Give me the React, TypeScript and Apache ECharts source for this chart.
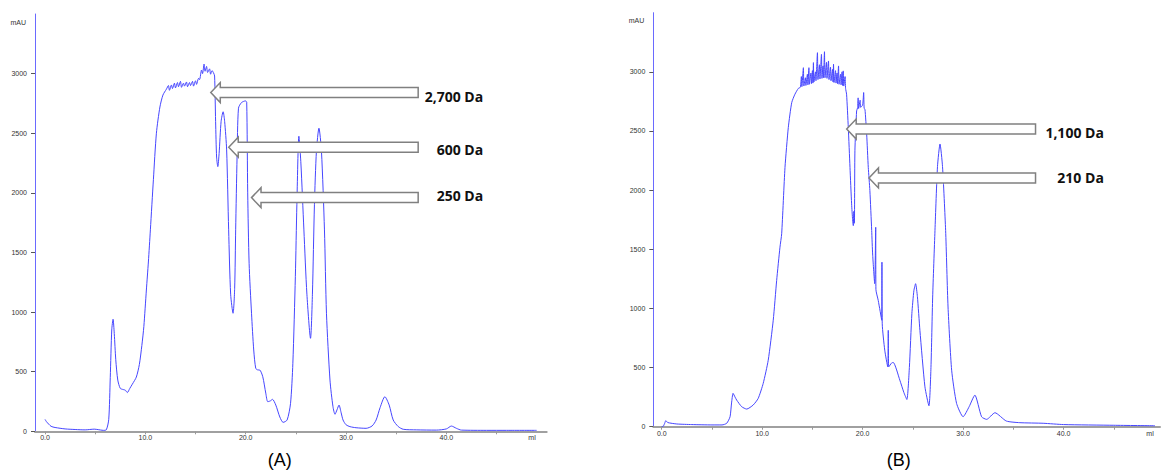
import React, { useEffect, useRef } from "react";
import * as echarts from "echarts";

// ---- Chromatogram (A) : elution volume (ml) / absorbance (mAU)
const volumeA = [
  0.0, 0.15, 0.6, 1.0, 2.0, 3.0, 4.0, 4.9, 5.3, 5.8, 6.1, 6.35, 6.5, 6.65, 6.78, 6.9, 7.05, 7.25, 7.5, 7.8,
  8.0, 8.2, 8.45, 8.7, 9.1, 9.4, 9.65, 9.85, 10.1, 10.3, 10.5, 10.8, 11.1, 11.45, 11.75, 12.1, 12.3, 12.4, 12.6, 12.7,
  12.9, 13.0, 13.2, 13.3, 13.5, 13.6, 13.8, 13.9, 14.1, 14.2, 14.4, 14.5, 14.7, 14.8, 15.0, 15.1, 15.3, 15.4, 15.6, 15.7,
  15.85, 15.95, 16.1, 16.2, 16.4, 16.5, 16.65, 16.8, 16.9, 17.0, 17.1, 17.22, 17.35, 17.55, 17.75, 17.9, 18.1, 18.3, 18.5, 18.74,
  18.9, 19.0, 19.14, 19.28, 19.58, 19.98, 20.1, 20.2, 20.34, 20.58, 20.8, 21.0, 21.2, 21.4, 21.7, 22.0, 22.2, 22.45, 22.67, 23.0,
  23.4, 23.73, 24.13, 24.47, 24.7, 24.95, 25.1, 25.3, 25.5, 25.8, 26.1, 26.46, 26.65, 26.85, 27.05, 27.3, 27.55, 27.85,
  28.05, 28.4, 28.7, 28.9, 29.1, 29.3, 29.5, 29.7, 30.0, 30.4, 31.0, 32.0, 32.6, 33.0, 33.4, 33.87, 34.3, 34.7, 35.2, 35.7,
  37.0, 39.0, 40.0, 40.5, 41.0, 41.5, 44.0, 46.0, 49.0,
];
const absorbanceA = [
  100, 80, 42, 32, 20, 15, 12, 18, 14, 8, 12, 100, 450, 850, 940, 820, 600, 430, 360, 350,
  345, 325, 360, 395, 455, 560, 720, 880, 1185, 1420, 1690, 2110, 2500, 2720, 2820, 2870, 2900, 2860, 2905, 2875,
  2920, 2880, 2925, 2890, 2935, 2885, 2920, 2895, 2930, 2890, 2925, 2900, 2935, 2895, 2940, 2910, 2960, 2950, 3030, 3000,
  3080, 3020, 3060, 3010, 3040, 2995, 3025, 3005, 2980, 2600, 2300, 2220, 2330, 2600, 2680, 2600, 2360, 1690, 1150, 990,
  1200, 1690, 2300, 2710, 2757, 2771, 2760, 2000, 1409, 990, 682, 528, 515, 514, 458, 320, 248, 255, 268, 220,
  120, 75, 95, 235, 570, 1300, 1900, 2475, 2250, 1689, 1150, 780, 1150, 1900, 2350, 2542, 2350, 1689,
  990, 430, 206, 143, 180, 220, 160, 95, 55, 39, 30, 25, 45, 95, 200, 290, 220, 95, 40, 17,
  12, 10, 20, 44, 25, 10, 8, 8, 8,
];

// ---- Chromatogram (B)
const volumeB = [
  0.0, 0.16, 0.3, 0.4, 0.6, 1.5, 3.0, 5.0, 6.0, 6.47, 6.8, 6.95, 7.1, 7.3, 7.46, 7.96, 8.46, 9.1, 9.6, 10.1,
  10.6, 11.1, 11.44, 11.77, 11.94, 12.27, 12.6, 12.94, 13.26, 13.6, 13.8, 13.9, 13.95, 14.1, 14.15, 14.3, 14.35, 14.5, 14.55, 14.65,
  14.7, 14.85, 14.9, 15.0, 15.05, 15.1, 15.15, 15.3, 15.35, 15.5, 15.55, 15.7, 15.75, 15.9, 15.95, 16.05, 16.1, 16.2, 16.25, 16.4,
  16.45, 16.6, 16.65, 16.8, 16.85, 17.0, 17.05, 17.1, 17.15, 17.3, 17.35, 17.45, 17.5, 17.6, 17.65, 17.8, 17.85, 17.95, 18.0, 18.07,
  18.12, 18.25, 18.3, 18.4, 18.57, 18.74, 18.9, 19.0, 19.07, 19.12, 19.18, 19.23, 19.4, 19.5, 19.55, 19.6, 19.75, 19.8, 20.0, 20.1,
  20.15, 20.23, 20.4, 20.56, 20.72, 20.9, 21.0, 21.2, 21.3, 21.32, 21.55, 21.9, 21.92, 21.95, 22.2, 22.5, 22.55, 22.6, 22.9, 23.05,
  23.7, 24.1, 24.4, 24.65, 24.9, 25.1, 25.27, 25.45, 25.7, 26.2, 26.6, 26.8, 26.97, 27.2, 27.45, 27.7, 27.95, 28.26, 28.5, 28.86,
  29.35, 30.0, 30.6, 31.17, 31.84, 32.34, 33.17, 34.3, 35.65, 37.97, 40.0, 45.0, 49.1,
];
const absorbanceB = [
  0, 5, 30, 51, 35, 23, 18, 15, 15, 29, 84, 200, 282, 250, 225, 169, 149, 183, 239, 366,
  562, 900, 1237, 1518, 1631, 2192, 2530, 2740, 2811, 2860, 2870, 2960, 2875, 3035, 2880, 2950, 2885, 2980, 2890, 3035,
  2895, 2990, 2900, 3010, 2905, 3078, 2915, 3000, 2925, 3162, 2935, 3060, 2940, 3148, 2945, 3050, 2950, 3170, 2950, 3080,
  2945, 3092, 2935, 3040, 2925, 3020, 2915, 3064, 2910, 3010, 2905, 2990, 2900, 3050, 2895, 2980, 2890, 3000, 2885, 3008,
  2880, 2960, 2860, 2811, 2530, 2192, 1884, 1750, 1700, 1820, 1720, 2333, 2670, 2698, 2780, 2690, 2760, 2700, 2720, 2825,
  2690, 2684, 2474, 2192, 1996, 1659, 1450, 1209, 1686, 1160, 1068, 900, 1391, 870, 647, 506, 815, 506, 540, 543,
  394, 290, 230, 500, 956, 1150, 1209, 1100, 815, 337, 177, 500, 1096, 1659, 2200, 2390, 2200, 1659, 1012, 478,
  197, 84, 169, 267, 84, 62, 118, 48, 34, 29, 18, 12, 8,
];

// ---- axes
const yTicks = [0, 500, 1000, 1500, 2000, 2500, 3000];
const xLabels = [0, 10, 20, 30, 40];
const xTicks = [0, 5, 10, 15, 20, 25, 30, 35, 40, 45];

// ---- molecular-weight markers
const markerLabelsA = ["2,700 Da", "600 Da", "250 Da"];
const markerTipXA = [16.52, 18.31, 20.58];
const markerTipYA = [2841, 2383, 1960];
const markerTailXA = [37.19, 37.19, 37.19];
const markerLabelYA = [2807, 2360, 1977];
const markerLabelXA = 43.67;

const markerLabelsB = ["1,100 Da", "210 Da"];
const markerTipXB = [18.41, 20.63];
const markerTipYB = [2516, 2103];
const markerTailXB = [37.21, 37.21];
const markerLabelYB = [2487, 2108];
const markerLabelXB = 44.01;

const panelLabels = ["(A)", "(B)"];

const LINE = "#4646ff";
const FONT = "'Liberation Sans', Arial, sans-serif";

function zip(xs: number[], ys: number[]) {
  return xs.map((x, i) => [x, ys[i]]);
}

function xAxisCfg(gridIndex: number, min: number, max: number, gap: number) {
  return {
    type: "value",
    gridIndex,
    min,
    max,
    name: "ml",
    nameLocation: "end",
    nameGap: gap,
    nameTextStyle: { fontSize: 7, color: "#333", fontFamily: FONT, align: "center", verticalAlign: "top", padding: [3, 0, 0, 0] },
    axisLine: { show: true, onZero: false, lineStyle: { color: "#a0a0a0", width: 2 } },
    axisTick: { show: true, customValues: xTicks, length: 3, lineStyle: { color: "#999" } },
    axisLabel: { customValues: xLabels, fontSize: 7, color: "#333", fontFamily: FONT, margin: 3, formatter: (v: number) => v.toFixed(1) },
    splitLine: { show: false },
  };
}

function yAxisCfg(gridIndex: number) {
  return {
    type: "value",
    gridIndex,
    min: 0,
    max: 3500,
    name: "mAU",
    nameLocation: "end",
    nameGap: -8,
    nameTextStyle: { fontSize: 7, color: "#333", fontFamily: FONT, align: "right", verticalAlign: "middle", padding: [0, 9, 0, 0] },
    axisLine: { show: true, onZero: false, lineStyle: { color: "#6a6aff", width: 1 } },
    axisTick: { show: true, customValues: yTicks, length: 4, lineStyle: { color: "#555" } },
    axisLabel: { customValues: yTicks, fontSize: 7, color: "#333", fontFamily: FONT, margin: 8, formatter: (v: number) => String(v) },
    splitLine: { show: false },
  };
}

export default function App() {
  const ref = useRef<HTMLDivElement>(null);
  useEffect(() => {
    if (!ref.current) return;
    const chart = echarts.init(ref.current, null, { renderer: "svg" });
    chart.setOption({
      animation: false,
      backgroundColor: "#ffffff",
      grid: [
        { left: 35, top: 14, right: 614.3, bottom: 39.7, outerBoundsMode: "none", containLabel: false },
        { left: 653.3, top: 12.7, right: 1, bottom: 44.3, outerBoundsMode: "none", containLabel: false },
      ],
      xAxis: [xAxisCfg(0, -1, 50, -14.7), xAxisCfg(1, -0.84, 49.6, -10)],
      yAxis: [yAxisCfg(0), yAxisCfg(1)],
      series: [
        {
          type: "line", xAxisIndex: 0, yAxisIndex: 0, data: zip(volumeA, absorbanceA),
          showSymbol: false, smooth: 0.25, lineStyle: { color: LINE, width: 1 },
        },
        {
          type: "line", xAxisIndex: 1, yAxisIndex: 1, data: zip(volumeB, absorbanceB),
          showSymbol: false, smooth: 0.2, lineStyle: { color: LINE, width: 1 },
        },
      ],
    });

    const graphic: any[] = [];
    const addMarkers = (
      gridIndex: number, labels: string[], tipX: number[], tipY: number[], tailX: number[], labelY: number[], labelX: number
    ) => {
      labels.forEach((lab, i) => {
        const [tx, ty] = chart.convertToPixel({ gridIndex }, [tipX[i], tipY[i]]) as number[];
        const [ex] = chart.convertToPixel({ gridIndex }, [tailX[i], tipY[i]]) as number[];
        const [lx, ly] = chart.convertToPixel({ gridIndex }, [labelX, labelY[i]]) as number[];
        const hb = tx + 9.5;
        graphic.push({
          type: "polygon",
          z: 10,
          shape: {
            points: [
              [tx, ty], [hb, ty - 10], [hb, ty - 5], [ex, ty - 5], [ex, ty + 5], [hb, ty + 5], [hb, ty + 10],
            ],
          },
          style: { fill: "#ffffff", stroke: "#808080", lineWidth: 1.5 },
        });
        graphic.push({
          type: "text",
          z: 10,
          x: lx,
          y: ly,
          style: {
            text: lab, fill: "#111", font: "bold 14px 'Open Sans', 'Noto Sans', sans-serif",
            textAlign: "right", textVerticalAlign: "middle",
          },
        });
      });
    };
    addMarkers(0, markerLabelsA, markerTipXA, markerTipYA, markerTailXA, markerLabelYA, markerLabelXA);
    addMarkers(1, markerLabelsB, markerTipXB, markerTipYB, markerTailXB, markerLabelYB, markerLabelXB);

    const [ax] = chart.convertToPixel({ gridIndex: 0 }, [23.4, 0]) as number[];
    const [bx] = chart.convertToPixel({ gridIndex: 1 }, [23.6, 0]) as number[];
    [ax, bx].forEach((x, i) => {
      graphic.push({
        type: "text",
        x,
        y: 460,
        style: { text: panelLabels[i], fill: "#000", font: `18px ${FONT}`, textAlign: "center", textVerticalAlign: "middle" },
      });
    });
    chart.setOption({ graphic });

    return () => chart.dispose();
  }, []);
  return <div ref={ref} style={{ position: "absolute", left: 0, top: 0, width: 1161, height: 471 }} />;
}
